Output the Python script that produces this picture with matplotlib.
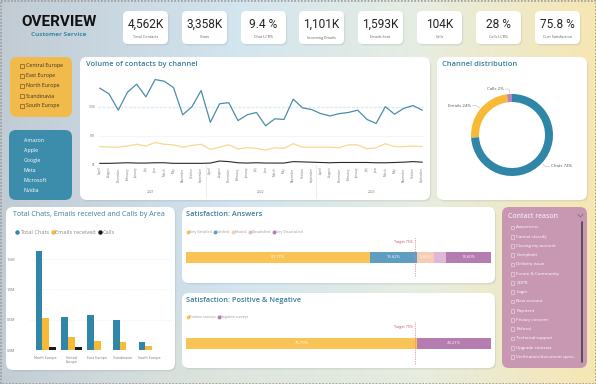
import matplotlib
matplotlib.use('Agg')
import matplotlib.pyplot as plt
import numpy as np
from matplotlib.patches import FancyBboxPatch, Rectangle
from matplotlib.lines import Line2D
from matplotlib.colors import to_rgb

plt.rcParams['font.family'] = ['Open Sans', 'DejaVu Sans']

# ---------------- data ----------------
kpi_values = ['4,562K', '3,358K', '9.4 %', '1,101K', '1,593K', '104K', '28 %', '75.8 %']
kpi_labels = ['Total Contacts', 'Chats', 'Chat LCR%', 'Incoming Emails', 'Emails Sent',
              'Calls', 'Calls LCR%', 'Cust Satisfaction']

areas = ['Central Europe', 'East Europe', 'North Europe', 'Scandinavia', 'South Europe']
companies = ['Amazon', 'Apple', 'Google', 'Meta', 'Microsoft', 'Nvidia']
contact_reasons = ['Awareness', 'Cannot classify', 'Closing my account', 'Complaint',
                   'Delivery issue', 'Forum & Community', 'GDPR', 'Login', 'New account',
                   'Payment', 'Privacy concern', 'Refund', 'Technical support',
                   'Upgrade contract', 'Verification/document ques...']

months = ['April', 'August', 'December', 'February', 'January', 'July', 'June',
          'March', 'May', 'November', 'October', 'September']
years = ['2021', '2022', '2023']
chats_k = [132, 122, 94, 125, 139, 117, 147, 144, 133, 86, 100, 128,
           73, 105, 107, 76, 86, 90, 67, 79, 78, 113, 98, 95,
           88, 84, 88, 90, 94, 78, 71, 100, 87, 97, 102, 94]
emails_k = [31, 30, 30, 32, 35, 32, 38, 35, 34, 30, 33, 35,
            26, 30, 34, 27, 29, 28, 25, 29, 28, 36, 30, 30,
            30, 30, 29, 34, 34, 27, 29, 36, 31, 31, 32, 31]
calls_k = [2, 2, 2.5, 3, 2.5, 2.5, 3, 3, 2, 2, 2, 2,
           2.5, 6, 5, 3, 2.5, 3, 2.5, 2.5, 2.5, 5, 4.5, 4,
           3.5, 3, 3.5, 3.5, 3.5, 3.5, 3, 3, 3.5, 4, 5, 4]
chats_ref_k = 100

channels = ['Chats', 'Emails', 'Calls']
channel_share = [74, 24, 2]

bar_areas = ['North Europe', 'Central\nEurope', 'East Europe', 'Scandinavia', 'South Europe']
area_chats_m = [1.63, 0.54, 0.57, 0.50, 0.14]
area_emails_m = [0.53, 0.22, 0.15, 0.13, 0.07]
area_calls_m = [0.055, 0.045, 0.002, 0.001, 0.001]

answer_labels = ['Very Satisfied', 'Satisfied', 'Neutral', 'Dissatisfied', 'Very Dissatisfied']
answer_pct = [60.17, 15.62, 5.43, 4.18, 14.60]
posneg_labels = ['Positive surveys', 'Negative surveys']
posneg_pct = [75.79, 24.21]
target_pct = 75

# ---------------- styling ----------------
TEAL = '#2F86A6'
YELLOW = '#F8B935'
TITLE_C = '#3A7E9B'
W, H = 596, 384

fig = plt.figure(figsize=(W / 100, H / 100), dpi=100)
bg = fig.add_axes([0, 0, 1, 1])
bg.set_xlim(0, W)
bg.set_ylim(H, 0)
bg.axis('off')

# gradient background
stops = [(0.0, '#C1CBD4'), (0.40, '#D3E5EF'), (0.70, '#E6EDE2'), (1.0, '#F7E6B2')]
xs = np.linspace(0, 1, W)
grad = np.zeros((H, W, 3))
for c in range(3):
    row = np.interp(xs, [s[0] for s in stops], [to_rgb(s[1])[c] for s in stops])
    grad[:, :, c] = row
yy = np.linspace(0, 1, H)[:, None]
warm = np.array(to_rgb('#F1E7C2'))
mix = np.clip((yy - 0.75) * 1.6, 0, 0.45) * np.exp(-((xs[None, :] - 0.4) / 0.25) ** 2)
grad = grad * (1 - mix[..., None]) + warm * mix[..., None]
bg.imshow(grad, extent=(0, W, H, 0), aspect='auto', zorder=0)
bg.add_patch(Rectangle((0.5, 0.5), W - 1, H - 1, fill=False, ec='#9A9A9A', lw=1.2,
                       ls=(0, (1, 1)), zorder=1))


def panel(x0, y0, x1, y1, color='white', r=7, shadow=True):
    if shadow:
        bg.add_patch(FancyBboxPatch((x0 + 1.2, y0 + 1.5), x1 - x0, y1 - y0,
                                    boxstyle=f'round,pad=0,rounding_size={r}',
                                    fc='#5A6A78', alpha=0.12, ec='none', zorder=2))
    bg.add_patch(FancyBboxPatch((x0, y0), x1 - x0, y1 - y0,
                                boxstyle=f'round,pad=0,rounding_size={r}',
                                fc=color, ec='none', zorder=3))


def add_ax(x0, y0, x1, y1):
    a = fig.add_axes([x0 / W, 1 - y1 / H, (x1 - x0) / W, (y1 - y0) / H])
    a.patch.set_alpha(0)
    return a


def checkbox(x, y, ec, size=4.2):
    bg.add_patch(Rectangle((x, y - size / 2), size, size, fill=False, ec=ec, lw=0.5, zorder=4))


# ---------------- header ----------------
bg.text(59, 22, 'OVERVIEW', fontsize=11, fontweight='bold', family=['Roboto', 'DejaVu Sans'],
        color='#111111', ha='center', va='center', zorder=4)
bg.text(59, 35, 'Customer Service', fontsize=4.6, fontweight='bold', color='#3C8AA6',
        ha='center', va='center', zorder=4)

card_x0 = [123, 182, 241, 299, 358, 417, 476, 535]
for x0, v, lab in zip(card_x0, kpi_values, kpi_labels):
    panel(x0, 11, x0 + 45, 44, r=5)
    bg.text(x0 + 22.5, 24, v, fontsize=8.6, family=['Roboto', 'DejaVu Sans'], color='#252423',
            ha='center', va='center', zorder=4)
    bg.text(x0 + 22.5, 37.5, lab, fontsize=2.7, color='#605E5C', ha='center', va='center', zorder=4)

# ---------------- slicers ----------------
panel(10, 57, 72, 117, color='#F2BA4B', r=7, shadow=False)
for i, a in enumerate(areas):
    y = 66 + i * 10
    checkbox(20, y, '#7A5A20')
    bg.text(26, y, a, fontsize=3.8, color='#3B3320', va='center', zorder=4)

panel(9, 130, 72, 200, color='#3B8DAB', r=7, shadow=False)
for i, c in enumerate(companies):
    bg.text(24, 141 + i * 9.9, c, fontsize=3.8, color='white', va='center', zorder=4)

panel(502, 207, 587, 368, color='#C897B2', r=7, shadow=False)
bg.text(508, 217, 'Contact reason', fontsize=5, color='white', va='center', zorder=4)
bg.plot([578, 580.5, 583], [214.5, 217, 214.5], color='#8E6A80', lw=0.6, zorder=4)
bg.plot([581.5, 581.5], [222, 362], color='#4E4A50', lw=1.3, solid_capstyle='round', zorder=4)
for i, r in enumerate(contact_reasons):
    y = 227.5 + i * 9.25
    checkbox(510.5, y, '#E8D3DF', size=3.6)
    bg.text(516.5, y, r, fontsize=3.2, color='white', va='center', zorder=4)

# ---------------- line chart ----------------
panel(80, 57, 430, 200)
bg.text(86, 64, 'Volume of contacts by channel', fontsize=5.4, fontweight='semibold',
        color=TITLE_C, va='center', zorder=4)
axl = add_ax(98, 72, 424, 164.5)
n = len(chats_k)
xi = np.arange(n)
axl.plot(xi, chats_k, color='#4A8DAC', lw=0.9, solid_joinstyle='round')
axl.plot(xi, emails_k, color='#F6D990', lw=0.9, solid_joinstyle='round')
axl.plot(xi, calls_k, color='#2A2A2A', lw=0.8, solid_joinstyle='round')
axl.axhline(chats_ref_k, color='#B4DCEA', lw=0.9, ls=(0, (2, 1.5)), zorder=0)
axl.set_xlim(-0.2, n - 0.8)
axl.set_ylim(0, 160)
axl.set_yticks([0, 50, 100])
axl.set_yticklabels(['0K', '50K', '100K'])
axl.yaxis.grid(True, color='#F1F1F1', lw=0.5)
axl.set_xticks(xi)
axl.set_xticklabels(months * len(years), rotation=90)
axl.tick_params(axis='both', length=0, labelsize=2.2, labelcolor='#777777', pad=2)
for s in axl.spines.values():
    s.set_visible(False)
for k, yr in enumerate(years):
    axl.text(k * 12 + 5.5, -0.30, yr, transform=axl.get_xaxis_transform(), fontsize=2.4,
             color='#777777', ha='center', va='center')
    if k > 0:
        axl.plot([k * 12 - 0.5] * 2, [0, -0.36], transform=axl.get_xaxis_transform(),
                 color='#E6E6E6', lw=0.5, clip_on=False)

# ---------------- donut ----------------
panel(437, 57, 587, 200)
bg.text(442, 64, 'Channel distribution', fontsize=5.4, fontweight='semibold',
        color=TITLE_C, va='center', zorder=4)
axd = add_ax(462, 85, 562, 185)
wedges, _ = axd.pie(channel_share, colors=[TEAL, YELLOW, '#B886B6'], startangle=90,
                    counterclock=False, radius=0.82,
                    wedgeprops=dict(width=0.16, edgecolor='none'))
axd.set_xlim(-1, 1)
axd.set_ylim(-1, 1)
axd.set_aspect('equal')
for wdg, name, pct in zip(wedges, channels, channel_share):
    ang = np.deg2rad((wdg.theta1 + wdg.theta2) / 2)
    cx, cy = np.cos(ang), np.sin(ang)
    p0 = (0.84 * cx, 0.84 * cy)
    p1 = (0.92 * cx, 0.92 * cy)
    side = 1 if cx >= 0 else -1
    p2 = (p1[0] + side * 0.08, p1[1])
    axd.plot([p0[0], p1[0], p2[0]], [p0[1], p1[1], p2[1]], color='#BBBBBB', lw=0.4)
    axd.text(p2[0] + side * 0.03, p2[1], f'{name} {pct}%', fontsize=3.2, color='#555555',
             ha='left' if side > 0 else 'right', va='center')

# ---------------- bar chart by area ----------------
panel(6, 207, 175, 370)
bg.text(13, 215, 'Total Chats, Emails received and Calls by Area', fontsize=5.1,
        color=TITLE_C, va='center', zorder=4)
axb = add_ax(29, 244, 172, 350)
xb = np.arange(len(bar_areas))
bw = 0.26
axb.bar(xb - bw, area_chats_m, bw, color=TEAL, zorder=2)
axb.bar(xb, area_emails_m, bw, color=YELLOW, zorder=2)
axb.bar(xb + bw, area_calls_m, bw, color='#1A1A1A', zorder=2)
axb.set_xlim(-0.65, len(bar_areas) - 0.1)
axb.set_ylim(0, 1.75)
axb.set_yticks([0, 0.5, 1.0, 1.5])
axb.set_yticklabels(['0.0M', '0.5M', '1.0M', '1.5M'])
axb.yaxis.grid(True, color='#EEEEEE', lw=0.5, ls=(0, (1, 1)))
axb.set_xticks(xb)
axb.set_xticklabels(bar_areas, linespacing=1.1)
axb.tick_params(axis='both', length=0, labelsize=2.6, labelcolor='#777777', pad=4)
axb.tick_params(axis='y', pad=10)
for s in axb.spines.values():
    s.set_visible(False)
hb = [Line2D([], [], marker='o', ls='', color=c, markersize=2.2)
      for c in [TEAL, YELLOW, '#1A1A1A']]
axb.legend(hb, ['Total Chats', 'Emails received', 'Calls'], loc='center left',
           bbox_to_anchor=(11 / W, 1 - 232 / H), bbox_transform=fig.transFigure, ncol=3,
           fontsize=4.1, frameon=False, handletextpad=0.0, columnspacing=0.2,
           handlelength=1.0, borderpad=0, labelcolor='#888888')

# ---------------- satisfaction bars ----------------
ans_colors = ['#F9C355', '#5E9EC0', '#F7CBB4', '#DDB8DB', '#B57CAF']
pn_colors = ['#F9C355', '#B57CAF']


def stacked_bar(ax, pcts, colors, labels, legend_y, min_lab):
    left = 0
    for p, c in zip(pcts, colors):
        ax.barh(0, p, left=left, height=0.55, color=c, zorder=2)
        if p >= min_lab:
            ax.text(left + p / 2, 0, f'{p:.2f}%', fontsize=3.0, color='white',
                    ha='center', va='center', zorder=3)
        left += p
    ax.axvline(target_pct, color='#E27A8E', lw=0.6, ls=(0, (1, 1.2)), zorder=3)
    ax.text(target_pct - 0.6, 0.75, f'Target {target_pct}%', fontsize=2.6, color='#C84A5E',
            ha='right', va='center')
    ax.set_xlim(0, 100)
    ax.set_ylim(-1, 1)
    ax.axis('off')
    hs = [Line2D([], [], marker='o', ls='', color=c, markersize=1.8) for c in colors]
    ax.legend(hs, labels, loc='center left', bbox_to_anchor=(184 / W, 1 - legend_y / H),
              bbox_transform=fig.transFigure, ncol=len(labels), fontsize=2.6, frameon=False,
              handletextpad=-0.1, columnspacing=0.3, handlelength=1.0, borderpad=0,
              labelcolor='#999999')


panel(182, 207, 495, 283)
bg.text(186, 215, 'Satisfaction: Answers', fontsize=5.3, fontweight='semibold',
        color=TITLE_C, va='center', zorder=4)
axs1 = add_ax(186, 237, 491, 277)
stacked_bar(axs1, answer_pct, ans_colors, answer_labels, 232, 5)

panel(182, 293, 495, 368)
bg.text(186, 301, 'Satisfaction: Positive & Negative', fontsize=5.3, fontweight='semibold',
        color=TITLE_C, va='center', zorder=4)
axs2 = add_ax(186, 322, 491, 365)
stacked_bar(axs2, posneg_pct, pn_colors, posneg_labels, 317, 5)

fig.savefig('out.png', dpi=100)
